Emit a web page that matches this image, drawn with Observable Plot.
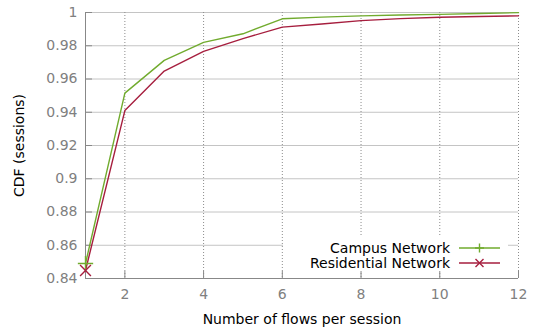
<!DOCTYPE html>
<html>
<head>
<meta charset="utf-8">
<script src="https://cdn.jsdelivr.net/npm/d3@7"></script>
<script src="https://cdn.jsdelivr.net/npm/@observablehq/plot@0.6"></script>
<style>
  html, body { margin: 0; padding: 0; background: #fff; }
  #wrap { position: relative; width: 536px; height: 327px; font-family: "DejaVu Sans", sans-serif; }
  #legend { position: absolute; left: 283px; top: 235px; width: 225px; height: 36px; background: #fff;
            font-size: 14px; color: #000; }
  .row { position: absolute; right: 8px; display: flex; align-items: center; height: 16px; }
  .row span { margin-right: 9px; }
</style>
</head>
<body>
<div id="wrap"></div>
<script>
const flows = [1, 2, 3, 4, 5, 6, 7, 8, 9, 10, 11, 12];
const campus = [0.849, 0.9515, 0.9712, 0.982, 0.9872, 0.9962, 0.9972, 0.998, 0.9985, 0.9989, 0.9994, 0.9999];
const residential = [0.8448, 0.941, 0.9648, 0.9766, 0.9843, 0.9912, 0.9931, 0.9951, 0.9963, 0.9971, 0.9976, 0.998];
const seriesNames = ["Campus Network", "Residential Network"];
const seriesColors = ["#71ab2e", "#a61e3e"];
const xTicks = [2, 4, 6, 8, 10, 12];
const yTicks = [0.84, 0.86, 0.88, 0.9, 0.92, 0.94, 0.96, 0.98, 1];
const yTickLabels = ["0.84", "0.86", "0.88", "0.9", "0.92", "0.94", "0.96", "0.98", "1"];

const rows = [];
flows.forEach((f, i) => {
  rows.push({flows: f, cdf: campus[i], series: seriesNames[0]});
  rows.push({flows: f, cdf: residential[i], series: seriesNames[1]});
});
const firstPts = rows.filter(d => d.flows === flows[0]);

const chart = Plot.plot({
  width: 536,
  height: 327,
  marginLeft: 85,
  marginRight: 18,
  marginTop: 12,
  marginBottom: 49,
  style: {fontFamily: "DejaVu Sans, sans-serif", fontSize: "14px", background: "#fff"},
  x: {type: "linear", domain: [1, 12]},
  y: {type: "linear", domain: [0.84, 1]},
  color: {domain: seriesNames, range: seriesColors},
  symbol: {domain: seriesNames, range: ["plus", "times"]},
  marks: [
    Plot.ruleY(yTicks, {stroke: "#c4c4c4", strokeWidth: 1, strokeOpacity: 1}),
    Plot.ruleX(xTicks, {stroke: "#8c8c8c", strokeWidth: 1, strokeDasharray: "1,2", strokeOpacity: 1}),
    Plot.axisY({ticks: yTicks, tickFormat: d => yTickLabels[yTicks.indexOf(d)], tickSize: 0, tickPadding: 8,
      fill: "#808080", fontSize: 14, label: "CDF (sessions)", labelAnchor: "center", labelArrow: "none", labelOffset: 71}),
    Plot.axisX({ticks: xTicks, tickSize: 0, tickPadding: 11, fill: "#808080", fontSize: 14,
      label: "Number of flows per session", labelAnchor: "center", labelArrow: "none", labelOffset: 45}),
    Plot.axisY({ticks: yTicks, tickSize: -7, text: null, label: null, stroke: "#888", strokeOpacity: 1}),
    Plot.axisX({ticks: xTicks, tickSize: -7, text: null, label: null, stroke: "#888", strokeOpacity: 1}),
    Plot.ruleX([1], {stroke: "#888", strokeWidth: 1}),
    Plot.ruleY([0.84], {stroke: "#888", strokeWidth: 1}),
    Plot.line(rows, {x: "flows", y: "cdf", z: "series", stroke: "series", strokeWidth: 1.4}),
    Plot.dot(firstPts, {x: "flows", y: "cdf", stroke: "series", symbol: "series", r: 5, strokeWidth: 1.4})
  ]
});
const wrap = document.getElementById("wrap");
wrap.appendChild(chart);

// axis titles in black
chart.querySelectorAll("g[aria-label='x-axis label'], g[aria-label='y-axis label']").forEach(g => {
  g.setAttribute("fill", "#000");
  g.querySelectorAll("text").forEach(t => t.setAttribute("fill", "#000"));
});

// legend
const legend = document.createElement("div");
legend.id = "legend";
seriesNames.forEach((name, i) => {
  const row = document.createElement("div");
  row.className = "row";
  row.style.top = (i === 0 ? 5 : 20) + "px";
  const span = document.createElement("span");
  span.textContent = name;
  row.appendChild(span);
  const svgNS = "http://www.w3.org/2000/svg";
  const s = document.createElementNS(svgNS, "svg");
  s.setAttribute("width", 41); s.setAttribute("height", 16);
  const ln = document.createElementNS(svgNS, "line");
  ln.setAttribute("x1", 0); ln.setAttribute("x2", 41); ln.setAttribute("y1", 8); ln.setAttribute("y2", 8);
  ln.setAttribute("stroke", seriesColors[i]); ln.setAttribute("stroke-width", 1.4);
  s.appendChild(ln);
  const p = document.createElementNS(svgNS, "path");
  p.setAttribute("d", i === 0 ? "M20.5,3.5V12.5M16,8H25" : "M16.5,4L24.5,12M24.5,4L16.5,12");
  p.setAttribute("stroke", seriesColors[i]); p.setAttribute("stroke-width", 1.4); p.setAttribute("fill", "none");
  s.appendChild(p);
  row.appendChild(s);
  legend.appendChild(row);
});
wrap.appendChild(legend);
</script>
</body>
</html>
